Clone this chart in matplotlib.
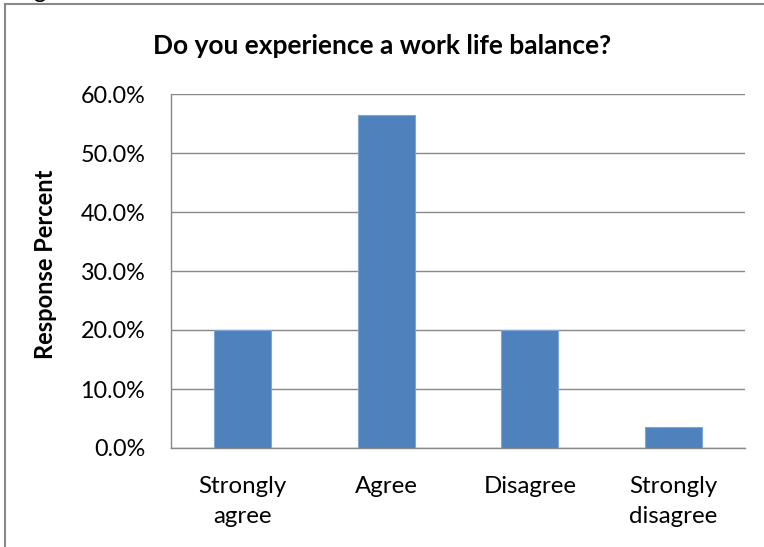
import matplotlib
matplotlib.use("Agg")
import matplotlib.pyplot as plt
from matplotlib.patches import Rectangle
from matplotlib.ticker import FuncFormatter

# Survey responses (share of respondents)
categories = ["Strongly\nagree", "Agree", "Disagree", "Strongly\ndisagree"]
response_percent = [20.0, 56.4, 20.0, 3.6]
y_ticks = [0, 10, 20, 30, 40, 50, 60]

title = "Do you experience a work life balance?"
y_label = "Response Percent"

plt.rcParams["font.family"] = ["Lato", "DejaVu Sans"]

W, H, DPI = 764, 547, 100
fig = plt.figure(figsize=(W / DPI, H / DPI), dpi=DPI)
fig.patch.set_facecolor("white")

# Chart frame (gray border running off the right and bottom edges)
frame = Rectangle((5 / W, -0.1), 1.2, 1.1 - 4 / H, transform=fig.transFigure,
                  fill=False, edgecolor="#888888", linewidth=1.5, zorder=0)
fig.add_artist(frame)

# Descender of a caption line above the chart
fig.text(33 / W, 1 + 2 / H, "g", fontsize=17, va="baseline", ha="left", color="black")

ax = fig.add_axes([171 / W, (H - 448) / H, (745 - 171) / W, (448 - 94) / H])

x = range(len(categories))
ax.bar(x, response_percent, width=0.4, color="#4F81BD", edgecolor="#7FA6D6",
       linewidth=0.8, zorder=3)

ax.set_xlim(-0.5, len(categories) - 0.5)
ax.set_ylim(0, 60)
ax.set_yticks(y_ticks)
ax.yaxis.set_major_formatter(FuncFormatter(lambda v, p: f"{v:.1f}%"))
ax.set_xticks(list(x))
ax.set_xticklabels(categories, linespacing=1.55, fontsize=17.3)

ax.grid(axis="y", color="#888888", linewidth=1.0, zorder=0)
ax.set_axisbelow(True)
for side in ("top", "right"):
    ax.spines[side].set_visible(False)
for side in ("left", "bottom"):
    ax.spines[side].set_color("#888888")
    ax.spines[side].set_linewidth(1.0)

ax.tick_params(axis="both", length=0, colors="black")
ax.tick_params(axis="y", pad=18.5, labelsize=16.8)
ax.tick_params(axis="x", pad=20)

ax.set_ylabel(y_label, fontsize=17, fontweight="bold")
ax.yaxis.set_label_coords((57 - 171) / (745 - 171), 0.52)

fig.text(382 / W, 1 - 46 / H, title, fontsize=19, fontweight="bold",
         ha="center", va="center")

fig.savefig("out.png", dpi=DPI)
